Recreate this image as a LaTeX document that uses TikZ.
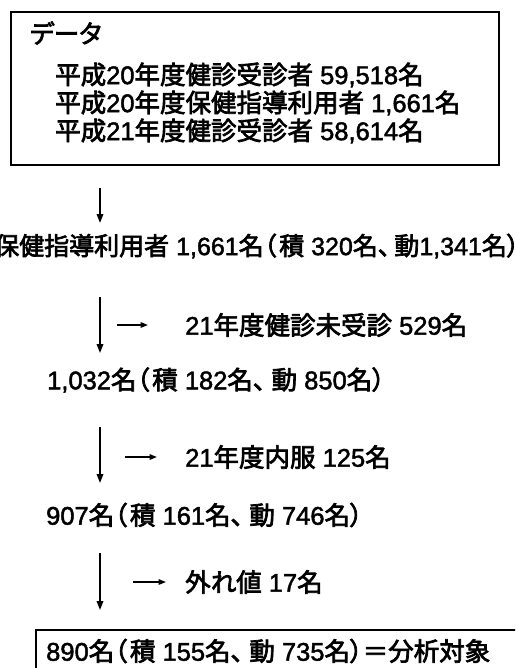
\documentclass[tikz,border=0pt]{standalone}
\usepackage{fontspec}
\setmainfont{Liberation Sans}[FakeBold=1.8]
\newfontfamily\jpfont{Noto Sans CJK JP}[RawFeature=+palt, FakeBold=2.8]
\newcommand{\J}[1]{{\jpfont #1}}
\newcommand{\Lp}{\J{（}\kern3pt}
\newcommand{\Cm}{\J{、}\kern6pt}
\usetikzlibrary{arrows.meta}
\tikzset{
  txt/.style={anchor=west, inner sep=0pt, font=\fontsize{25.5}{29}\selectfont},
  smalltxt/.style={anchor=west, inner sep=0pt, font=\fontsize{25}{29}\selectfont},
  frame/.style={draw=black, line width=1.3pt},
  vflow/.style={line width=1.8pt, -{Triangle[length=9pt,width=6.5pt]}},
  hflow/.style={line width=1.4pt, -{Triangle[length=7.5pt,width=5.5pt]}}
}
\begin{document}
\begin{tikzpicture}[x=1pt,y=-1pt]
\useasboundingbox (0,0) rectangle (515,668);
\clip (0,0) rectangle (515,668);
\draw[frame] (11,12) rectangle (499,165);
\node[txt] (data) at (30,33) {\J{データ}};
\node[txt] (l1) at (55,75) {\J{平成}20\J{年度健診受診者} 59,518\J{名}};
\node[txt] (l2) at (55,103) {\J{平成}20\J{年度保健指導利用者} 1,661\J{名}};
\node[txt] (l3) at (55,131) {\J{平成}21\J{年度健診受診者} 58,614\J{名}};

\coordinate (a1s) at (100,188);
\coordinate (a1e) at (100,223);
\draw[vflow] (a1s) -- (a1e);
\node[smalltxt] (t1) at (-6,246) {\J{保健指導利用者} 1,661\J{名}\Lp\J{積} 320\J{名}\J{、}\kern4pt\J{動}1,341\J{名）}};

\coordinate (a2s) at (100,297);
\coordinate (a2e) at (100,353);
\draw[vflow] (a2s) -- (a2e);
\coordinate (h2s) at (117,325);
\coordinate (h2e) at (148,325);
\draw[hflow] (h2s) -- (h2e);
\node[txt] (x1) at (185,325) {21\J{年度健診未受診} 529\J{名}};
\node[txt] (t2) at (47,380) {1,032\J{名}\Lp\J{積} 182\J{名}\Cm\J{動} 850\J{名）}};

\coordinate (a3s) at (100,427);
\coordinate (a3e) at (100,483);
\draw[vflow] (a3s) -- (a3e);
\coordinate (h3s) at (125,457);
\coordinate (h3e) at (157,457);
\draw[hflow] (h3s) -- (h3e);
\node[txt] (x2) at (185,457) {21\J{年度内服} 125\J{名}};
\node[txt] (t3) at (46,515) {907\J{名}\Lp\J{積} 161\J{名}\Cm\J{動} 746\J{名）}};

\coordinate (a4s) at (100,553);
\coordinate (a4e) at (100,610);
\draw[vflow] (a4s) -- (a4e);
\coordinate (h4s) at (133,582);
\coordinate (h4e) at (166,582);
\draw[hflow] (h4s) -- (h4e);
\node[txt] (x3) at (185,582) {\J{外れ値} 17\J{名}};

\draw[frame] (36,630) rectangle (540,700);
\node[txt] (t4) at (46,651) {890\J{名}\Lp\J{積} 155\J{名}\Cm\J{動} 735\J{名）＝分析対象}};
\end{tikzpicture}
\end{document}
